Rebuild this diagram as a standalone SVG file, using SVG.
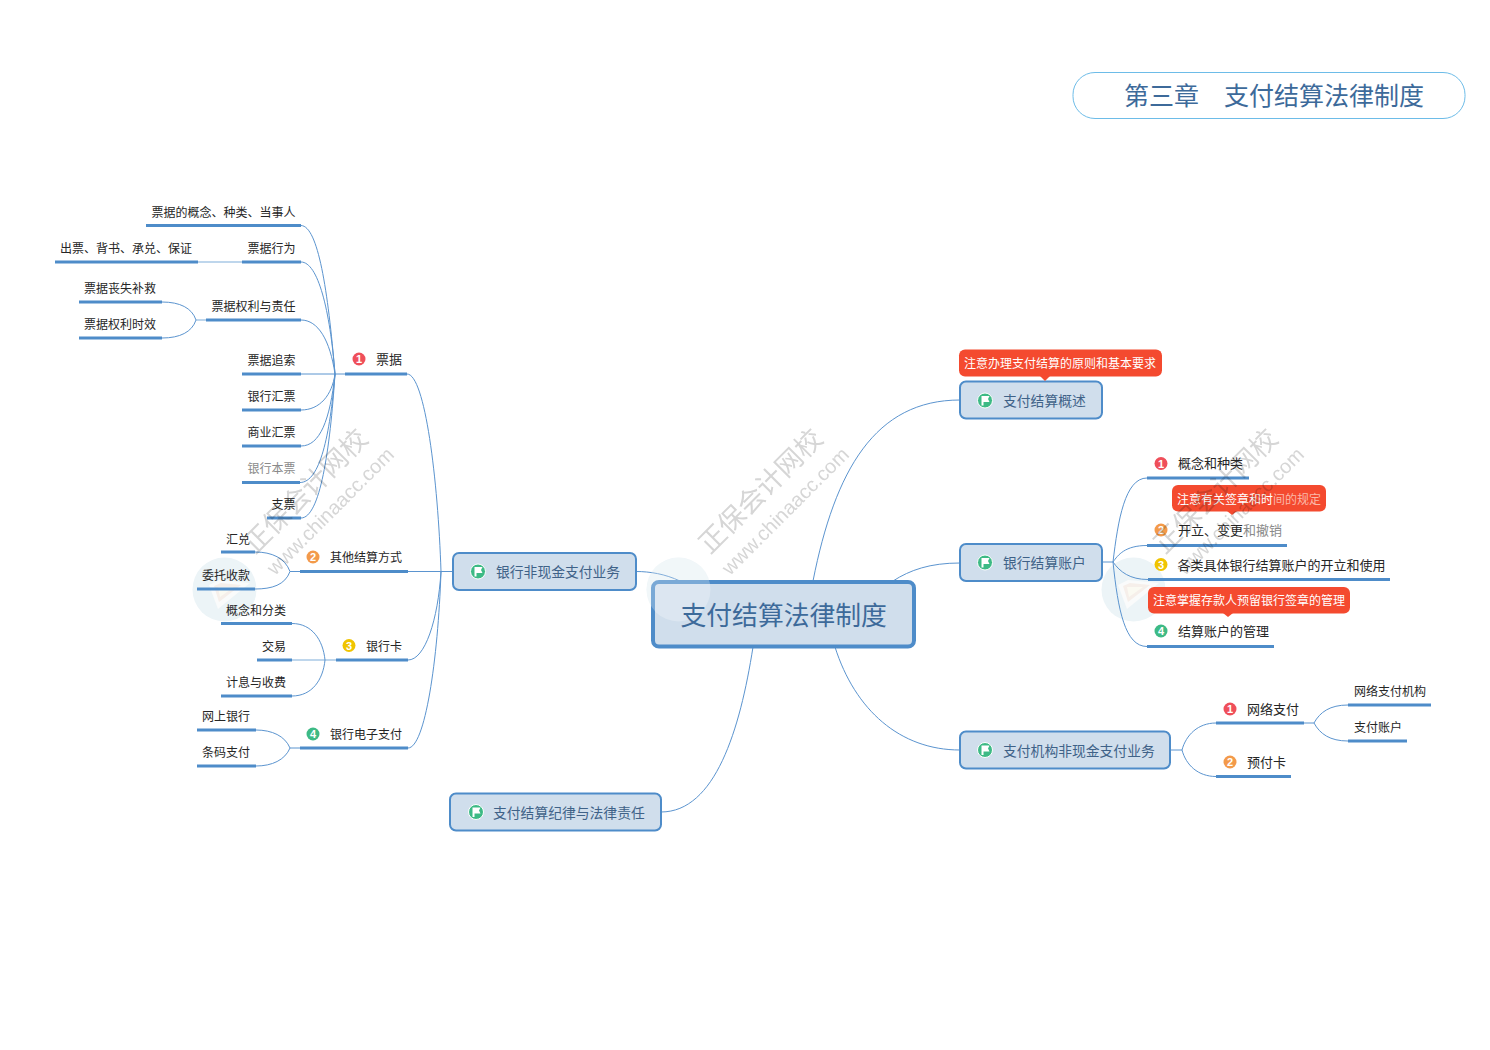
<svg xmlns="http://www.w3.org/2000/svg" xmlns:xlink="http://www.w3.org/1999/xlink" width="1490" height="1050" viewBox="0 0 1490 1050">
<style>
text{font-family:"Noto Sans CJK SC","Noto Sans",sans-serif}
.c{fill:none;stroke:#5b94cf;stroke-width:1}
.lt{fill:none;stroke:#a9c8e6;stroke-width:1.5}
.u{stroke:#4e8cc9;stroke-width:3}
.t{font-size:12px;fill:#262626}
.b{font-size:13px;fill:#262626}
.tr{font-size:12px;fill:#262626;text-anchor:end}
.m{fill:#d0deec;stroke:#4e8cc9;stroke-width:2}
.mt{font-size:13.800px;fill:#3f6288}
.call{fill:#f44a2f}
.ct{font-size:12px;fill:#fff}
.n{font-size:11px;font-weight:700;fill:#fff;text-anchor:middle;font-family:"Liberation Sans",sans-serif}
.r{fill:#ef4f5a}.o{fill:#f39a4a}.y{fill:#f0c400}.g{fill:#3dba85}
.wm{mix-blend-mode:multiply}
.wt{font-size:27px;fill:#d6d6d6}
.wu{font-size:20px;fill:#d6d6d6;font-family:"Liberation Sans",sans-serif}
</style>
<defs>
<g id="flag">
<circle r="7.500" fill="#3dba85" stroke="#fff" stroke-width="1"/>
<path d="M-3.500,-4.500H4.500L3,-1.500L4.500,1.500H-1.500V5H-3.500Z" fill="#fff"/>
</g>
<g id="logo">
<circle cx="678.500" cy="589.500" r="32" fill="#ecf4f7"/>
<path d="M663,585L673,580L704,583L672,609Z" fill="#fafbfb"/>
<path d="M668,586L675,583L695,585L673,602Z" fill="#f6efea"/>
<path d="M672,587L688,587L674,597Z" fill="#fbfaf2"/>
</g>
<g id="mark">
<text class="wt" transform="translate(710,555) rotate(-45)">正保会计网校</text>
<text class="wu" transform="translate(730,576) rotate(-45)">www.chinaacc.com</text>
</g>
</defs>

<rect width="1490" height="1050" fill="#fff"/>

<g id="logos">
<use href="#logo"/>
<use href="#logo" x="-454"/>
<use href="#logo" x="455"/>
</g>

<g id="connectors">
<path class="c" d="M813,581C835,470 875,400 960,400"/>
<path class="c" d="M893,581C910,570 930,563 960,563"/>
<path class="c" d="M835,647C855,710 900,750 960,750"/>
<path class="c" d="M753,647C740,730 715,812 661,812"/>
<path class="c" d="M636,571.500C650,571.500 665,574 680,581"/>

<path class="c" d="M408,571.500H453"/>
<path class="c" d="M407,374C425,374 438,480 441,571.500"/>
<path class="c" d="M408,660C425,660 438,620 441,571.500"/>
<path class="c" d="M408,748C425,748 438,660 441,571.500"/>

<path class="c" d="M335,374H345"/>
<path class="c" d="M301,225.500C318,226 328,290 335,374"/>
<path class="c" d="M301,262C318,262 330,310 335,374"/>
<path class="c" d="M301,320C318,320 330,340 335,374"/>
<path class="c" d="M301,374H335"/>
<path class="c" d="M301,410C320,410 332,395 335,374"/>
<path class="c" d="M301,446C320,446 330,420 335,374"/>
<path class="c" d="M300,482.500C320,482.500 330,435 335,374"/>
<path class="c" d="M301,518C320,518 330,450 335,374"/>
<path class="lt" d="M198,262H242"/>
<path class="lt" d="M196,320H206"/>
<path class="c" d="M162,302C180,302 192,308 196,320"/>
<path class="c" d="M162,338C180,338 192,332 196,320"/>

<path class="c" d="M290,571.500H300"/>
<path class="c" d="M255,552C272,552 285,558 290,571.500"/>
<path class="c" d="M255,589C272,589 285,585 290,571.500"/>
<path class="lt" d="M292,660H336"/>
<path class="c" d="M292,623.500C312,623.500 323,640 325,660"/>
<path class="c" d="M292,696C312,696 323,680 325,660"/>
<path class="c" d="M290,748H300"/>
<path class="c" d="M256,730C272,730 285,736 290,748"/>
<path class="c" d="M256,766C272,766 285,760 290,748"/>

<path class="c" d="M1102,562H1113"/>
<path class="c" d="M1113,562C1118,520 1125,478 1147,478"/>
<path class="c" d="M1113,562C1118,555 1125,545.500 1147,545.500"/>
<path class="c" d="M1113,562C1120,572 1130,579.500 1148,579.500"/>
<path class="c" d="M1113,562C1118,610 1125,646.500 1147,646.500"/>

<path class="c" d="M1170,750H1182"/>
<path class="c" d="M1182,750C1186,735 1198,723 1216,723"/>
<path class="c" d="M1182,750C1186,765 1198,776.500 1216,776.500"/>
<path class="c" d="M1304,723H1314"/>
<path class="c" d="M1314,723C1320,712 1330,705 1348,705"/>
<path class="c" d="M1314,723C1320,734 1330,741 1348,741"/>
</g>

<g id="title">
<rect x="1073" y="72.500" width="392" height="46" rx="22" fill="#fff" stroke="#6dbce8" stroke-width="1"/>
<text x="1124" y="105" font-size="25" fill="#3d6a9a">第三章　支付结算法律制度</text>
</g>

<g id="central">
<rect x="653" y="582" width="261" height="64.500" rx="6" fill="#d0deec" stroke="#4e8cc9" stroke-width="4"/>
<circle cx="678.500" cy="589.500" r="32" fill="#fff" opacity=".25"/>
<text x="680.500" y="625" font-size="25.800" fill="#3d6a9a">支付结算法律制度</text>
</g>

<g id="n-gaishu">
<rect class="m" x="960" y="381.500" width="142" height="37" rx="6"/>
<use href="#flag" x="985" y="400.500"/>
<text class="mt" x="1003" y="405.500">支付结算概述</text>
</g>
<g id="note-gaishu">
<rect class="call" x="959" y="349.500" width="203" height="27" rx="6"/>
<path class="call" d="M1040,376H1050L1045,381Z"/>
<text class="ct" x="964" y="368">注意办理支付结算的原则和基本要求</text>
</g>

<g id="n-zhanghu">
<rect class="m" x="960" y="544" width="142" height="37" rx="6"/>
<use href="#flag" x="985" y="562.500"/>
<text class="mt" x="1003" y="567.500">银行结算账户</text>
</g>

<g id="n-jigou">
<rect class="m" x="960" y="731.500" width="210" height="37" rx="6"/>
<use href="#flag" x="985" y="750"/>
<text class="mt" x="1003" y="755.500">支付机构非现金支付业务</text>
</g>

<g id="n-feixianjin">
<rect class="m" x="453" y="553" width="183" height="37" rx="6"/>
<use href="#flag" x="478" y="571.500"/>
<text class="mt" x="496" y="577">银行非现金支付业务</text>
</g>

<g id="n-jilv">
<rect class="m" x="450" y="793.500" width="211" height="37" rx="6"/>
<use href="#flag" x="476" y="812"/>
<text class="mt" x="493" y="817.500">支付结算纪律与法律责任</text>
</g>

<g id="n-piaoju">
<line class="u" x1="345" x2="407" y1="374" y2="374"/>
<circle class="r" cx="359" cy="359" r="6.500"/><text class="n" x="359" y="363">1</text>
<text class="b" x="376" y="364">票据</text>
</g>
<g id="n-p1"><line class="u" x1="146" x2="301" y1="225.500" y2="225.500"/><text class="tr" x="295.500" y="216.500">票据的概念、种类、当事人</text></g>
<g id="n-p2"><line class="u" x1="242" x2="301" y1="262" y2="262"/><text class="tr" x="295.500" y="252.500">票据行为</text></g>
<g id="n-p2a"><line class="u" x1="55" x2="198" y1="262" y2="262"/><text class="t" x="60" y="252.500">出票、背书、承兑、保证</text></g>
<g id="n-p3"><line class="u" x1="206" x2="301" y1="320" y2="320"/><text class="tr" x="295.500" y="310.500">票据权利与责任</text></g>
<g id="n-p3a"><line class="u" x1="79" x2="162" y1="302" y2="302"/><text class="t" x="84" y="292.500">票据丧失补救</text></g>
<g id="n-p3b"><line class="u" x1="79" x2="162" y1="338" y2="338"/><text class="t" x="84" y="328.500">票据权利时效</text></g>
<g id="n-p4"><line class="u" x1="242" x2="301" y1="374" y2="374"/><text class="tr" x="295.500" y="364.500">票据追索</text></g>
<g id="n-p5"><line class="u" x1="242" x2="301" y1="410" y2="410"/><text class="tr" x="295.500" y="400.500">银行汇票</text></g>
<g id="n-p6"><line class="u" x1="242" x2="301" y1="446" y2="446"/><text class="tr" x="295.500" y="437">商业汇票</text></g>
<g id="n-p7"><line class="u" x1="242" x2="300" y1="482.500" y2="482.500"/><text class="tr" x="295.500" y="473" style="fill:#8a8a8a">银行本票</text></g>
<g id="n-p8"><line class="u" x1="267" x2="301" y1="518" y2="518"/><text class="tr" x="295.500" y="509">支票</text></g>

<g id="n-qita">
<line class="u" x1="300" x2="408" y1="571.500" y2="571.500"/>
<circle class="o" cx="313" cy="557" r="6.500"/><text class="n" x="313" y="561">2</text>
<text class="t" x="330" y="562">其他结算方式</text>
</g>
<g id="n-q1"><line class="u" x1="221" x2="255" y1="552" y2="552"/><text class="t" x="226" y="544">汇兑</text></g>
<g id="n-q2"><line class="u" x1="197" x2="255" y1="589" y2="589"/><text class="t" x="202" y="580">委托收款</text></g>

<g id="n-yhk">
<line class="u" x1="336" x2="408" y1="660" y2="660"/>
<circle class="y" cx="349" cy="645.500" r="6.500"/><text class="n" x="349" y="649.500">3</text>
<text class="t" x="366" y="650.500">银行卡</text>
</g>
<g id="n-y1"><line class="u" x1="221" x2="292" y1="623.500" y2="623.500"/><text class="t" x="226" y="614.500">概念和分类</text></g>
<g id="n-y2"><line class="u" x1="257" x2="292" y1="660" y2="660"/><text class="t" x="262" y="650.500">交易</text></g>
<g id="n-y3"><line class="u" x1="221" x2="292" y1="696" y2="696"/><text class="t" x="226" y="686.500">计息与收费</text></g>

<g id="n-dz">
<line class="u" x1="300" x2="408" y1="748" y2="748"/>
<circle class="g" cx="313" cy="734" r="6.500"/><text class="n" x="313" y="738">4</text>
<text class="t" x="330" y="739">银行电子支付</text>
</g>
<g id="n-d1"><line class="u" x1="197" x2="256" y1="730" y2="730"/><text class="t" x="202" y="721">网上银行</text></g>
<g id="n-d2"><line class="u" x1="197" x2="256" y1="766" y2="766"/><text class="t" x="202" y="757">条码支付</text></g>

<g id="n-z1">
<line class="u" x1="1147" x2="1249" y1="478" y2="478"/>
<circle class="r" cx="1161" cy="463.500" r="6.500"/><text class="n" x="1161" y="467.500">1</text>
<text class="b" x="1178" y="468">概念和种类</text>
</g>
<g id="n-z2">
<line class="u" x1="1147" x2="1287" y1="545.500" y2="545.500"/>
<circle class="o" cx="1161" cy="530" r="6.500"/><text class="n" x="1161" y="534">2</text>
<text class="b" x="1178" y="535">开立、变更<tspan fill="#8a8a8a">和撤销</tspan></text>
</g>
<g id="note-z2">
<rect class="call" x="1172" y="485" width="154" height="26.500" rx="6"/>
<path class="call" d="M1227,511H1237L1232,515Z"/>
<text class="ct" x="1177" y="503.500">注意有关签章和时<tspan fill="#fbb9a9">间的规定</tspan></text>
</g>
<g id="n-z3">
<line class="u" x1="1148" x2="1390" y1="579.500" y2="579.500"/>
<circle class="y" cx="1161" cy="564.500" r="6.500"/><text class="n" x="1161" y="568.500">3</text>
<text class="b" x="1177.500" y="569.500">各类具体银行结算账户的开立和使用</text>
</g>
<g id="note-z4">
<rect class="call" x="1148" y="587" width="202" height="26.500" rx="6"/>
<path class="call" d="M1223,613H1233L1228,617Z"/>
<text class="ct" x="1153" y="605">注意掌握存款人预留银行签章的管理</text>
</g>
<g id="n-z4">
<line class="u" x1="1147" x2="1274" y1="646.500" y2="646.500"/>
<circle class="g" cx="1161" cy="631" r="6.500"/><text class="n" x="1161" y="635">4</text>
<text class="b" x="1178" y="636">结算账户的管理</text>
</g>

<g id="n-j1">
<line class="u" x1="1216" x2="1304" y1="723" y2="723"/>
<circle class="r" cx="1230" cy="709" r="6.500"/><text class="n" x="1230" y="713">1</text>
<text class="b" x="1247" y="713.500">网络支付</text>
</g>
<g id="n-j1a"><line class="u" x1="1348" x2="1431" y1="705" y2="705"/><text class="t" x="1354" y="696">网络支付机构</text></g>
<g id="n-j1b"><line class="u" x1="1348" x2="1407" y1="741" y2="741"/><text class="t" x="1354" y="732">支付账户</text></g>
<g id="n-j2">
<line class="u" x1="1216" x2="1291" y1="776.500" y2="776.500"/>
<circle class="o" cx="1230" cy="762" r="6.500"/><text class="n" x="1230" y="766">2</text>
<text class="b" x="1247" y="766.500">预付卡</text>
</g>

<g id="watermarks" class="wm">
<use href="#mark"/>
<use href="#mark" x="-455"/>
<use href="#mark" x="455"/>
</g>
</svg>
